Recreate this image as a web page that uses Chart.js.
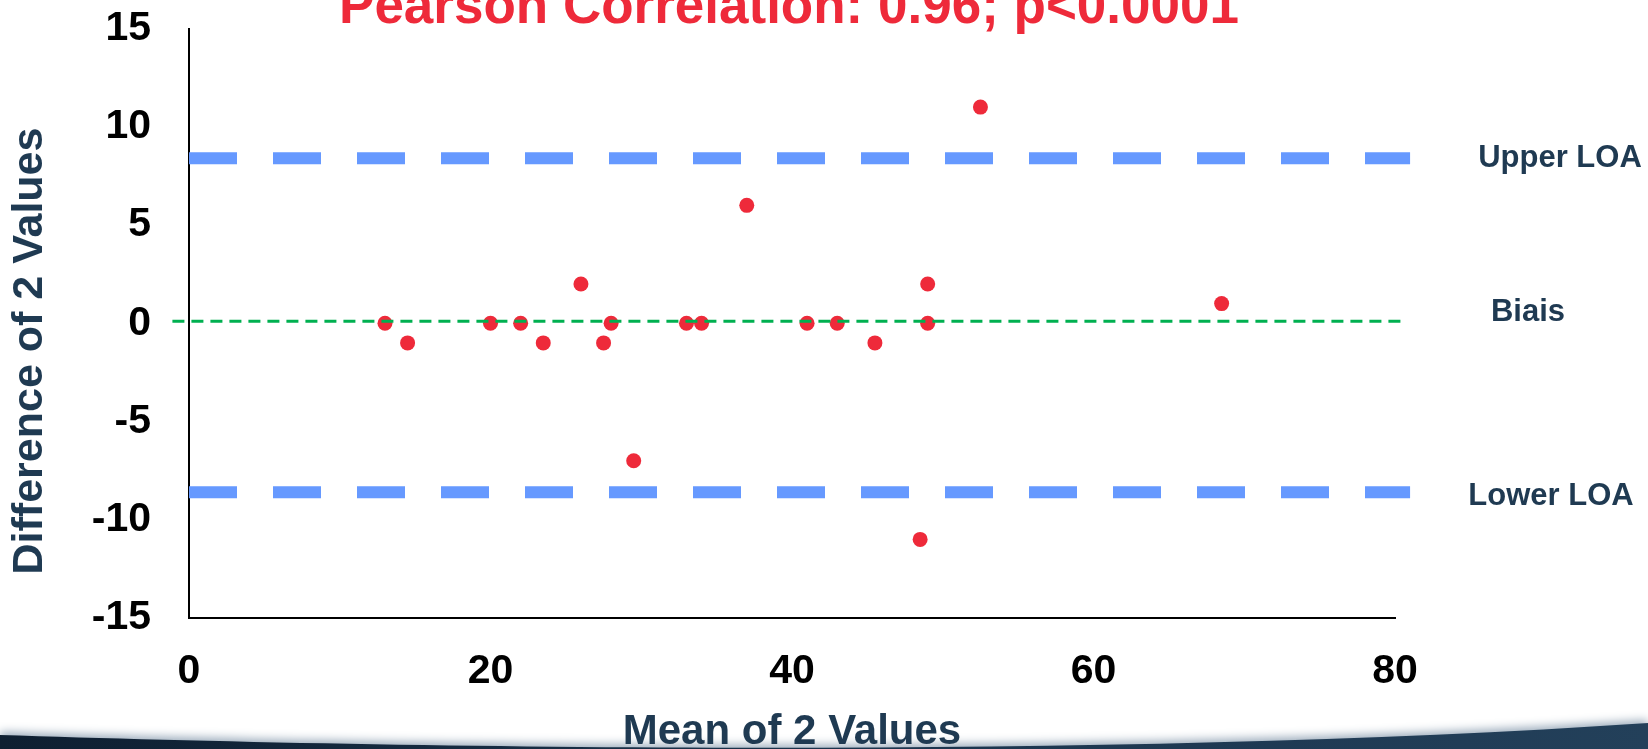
<!DOCTYPE html>
<html><head><meta charset="utf-8">
<script src="https://cdn.jsdelivr.net/npm/chart.js@4.4.1/dist/chart.umd.min.js"></script>
<style>html,body{margin:0;padding:0;background:#fff;overflow:hidden}#wrap{position:relative;width:1648px;height:749px}canvas{display:block}</style>
</head><body><div id="wrap"><canvas id="c" width="1648" height="749"></canvas></div>
<script>
// ---- data ----
const meanValues = [13, 14.5, 20, 22, 23.5, 26, 27.5, 28, 29.5, 33, 34, 37, 41, 43, 45.5, 48.5, 49, 49, 52.5, 68.5];
const diffValues = [0, -1, 0, 0, -1, 2, -1, 0, -7, 0, 0, 6, 0, 0, -1, -11, 2, 0, 11, 1];
const biasValue = 0.1;
const upperLOA = 8.4;
const lowerLOA = -8.6;
const loaSpan = [0, 81];
const biasSpan = [-1.1, 80.7];
const xTicks = [0, 20, 40, 60, 80];
const yTicks = [-15, -10, -5, 0, 5, 10, 15];
const lineLabels = ['Upper LOA', 'Biais', 'Lower LOA'];
const chartTitle = 'Pearson Correlation: 0.96; p<0.0001';
const xTitle = 'Mean of 2 Values';
const yTitle = 'Difference of 2 Values';

const FONT = '"Liberation Sans", Arial, Helvetica, sans-serif';
const NAVY = '#1F3A52';
const RED = '#EE2A3A';

const bgPlugin = {
  id: 'bg',
  beforeDraw(chart) {
    const ctx = chart.ctx, W = chart.width, H = chart.height;
    ctx.save();
    ctx.fillStyle = '#ffffff';
    ctx.fillRect(0, 0, W, H);
    ctx.beginPath();
    ctx.moveTo(0, 735);
    ctx.bezierCurveTo(400, 748, 1100, 760, W, 723);
    ctx.lineTo(W, H + 20);
    ctx.lineTo(0, H + 20);
    ctx.closePath();
    ctx.shadowColor = 'rgba(70,100,130,0.55)';
    ctx.shadowBlur = 10;
    ctx.shadowOffsetY = -3;
    const g = ctx.createLinearGradient(0, 0, W, 0);
    g.addColorStop(0, '#0e1f31');
    g.addColorStop(0.5, '#1a334c');
    g.addColorStop(1, '#23405a');
    ctx.fillStyle = g;
    ctx.fill();
    ctx.restore();
  }
};

const textPlugin = {
  id: 'texts',
  afterDraw(chart) {
    const ctx = chart.ctx, a = chart.chartArea, ys = chart.scales.y;
    ctx.save();
    // title
    ctx.fillStyle = RED;
    ctx.font = 'bold 53px ' + FONT;
    ctx.textAlign = 'center';
    ctx.textBaseline = 'alphabetic';
    ctx.fillText(chartTitle, (a.left + a.right) / 2 - 3, 23);
    // y title
    ctx.save();
    ctx.translate(30, 351);
    ctx.rotate(-Math.PI / 2);
    ctx.fillStyle = NAVY;
    ctx.font = 'bold 43px ' + FONT;
    ctx.textBaseline = 'middle';
    ctx.fillText(yTitle, 0, 0);
    ctx.restore();
    // line labels
    const vals = [upperLOA, biasValue, lowerLOA];
    const dx = [165, 133, 156];
    const dy = [0, -9, 4];
    ctx.fillStyle = NAVY;
    ctx.font = 'bold 31px ' + FONT;
    ctx.textBaseline = 'middle';
    lineLabels.forEach((t, i) => {
      ctx.fillText(t, a.right + dx[i], ys.getPixelForValue(vals[i]) + dy[i]);
    });
    ctx.restore();
  }
};

new Chart(document.getElementById('c'), {
  type: 'scatter',
  data: {
    datasets: [
      {
        type: 'line', label: 'Upper LOA', order: 0,
        data: loaSpan.map(x => ({ x, y: upperLOA })),
        borderColor: '#6699FF', borderWidth: 12, borderDash: [48, 36], borderCapStyle: 'butt',
        pointRadius: 0, fill: false, clip: false
      },
      {
        type: 'line', label: 'Lower LOA', order: 0,
        data: loaSpan.map(x => ({ x, y: lowerLOA })),
        borderColor: '#6699FF', borderWidth: 12, borderDash: [48, 36], borderCapStyle: 'butt',
        pointRadius: 0, fill: false, clip: false
      },
      {
        type: 'line', label: 'Biais', order: 0,
        data: biasSpan.map(x => ({ x, y: biasValue })),
        borderColor: '#00B050', borderWidth: 3, borderDash: [12, 7], borderCapStyle: 'butt',
        pointRadius: 0, fill: false, clip: false
      },
      {
        type: 'scatter', label: 'Differences', order: 1,
        data: meanValues.map((x, i) => ({ x, y: diffValues[i] })),
        backgroundColor: RED, borderWidth: 0, pointRadius: 7.5, pointHoverRadius: 7.5
      }
    ]
  },
  options: {
    responsive: false,
    animation: false,
    devicePixelRatio: 1,
    layout: { padding: { left: 0, right: 253, top: 28.5, bottom: 0 } },
    plugins: { legend: { display: false }, tooltip: { enabled: false }, title: { display: false } },
    scales: {
      x: {
        type: 'linear', min: xTicks[0], max: xTicks[xTicks.length - 1],
        afterBuildTicks: s => { s.ticks = xTicks.map(v => ({ value: v })); },
        afterFit: s => { s.height = 131; s.paddingLeft = 0; s.paddingRight = 0; },
        grid: { display: false, drawTicks: false },
        border: { display: true, color: '#000', width: 2 },
        ticks: { color: '#000', padding: 29, font: { family: FONT, size: 41, weight: 'bold' } },
        title: { display: true, text: xTitle, color: NAVY, padding: { top: 0, bottom: 0 },
                 font: { family: FONT, size: 42, weight: 'bold', lineHeight: 0.8 } }
      },
      y: {
        type: 'linear', min: yTicks[0], max: yTicks[yTicks.length - 1],
        afterBuildTicks: s => { s.ticks = yTicks.map(v => ({ value: v })); },
        afterFit: s => { s.width = 189; s.paddingTop = 0; s.paddingBottom = 0; },
        grid: { display: false, drawTicks: false },
        border: { display: true, color: '#000', width: 2 },
        ticks: { color: '#000', padding: 38, font: { family: FONT, size: 41, weight: 'bold' } }
      }
    }
  },
  plugins: [bgPlugin, textPlugin]
});
</script>
</body></html>
